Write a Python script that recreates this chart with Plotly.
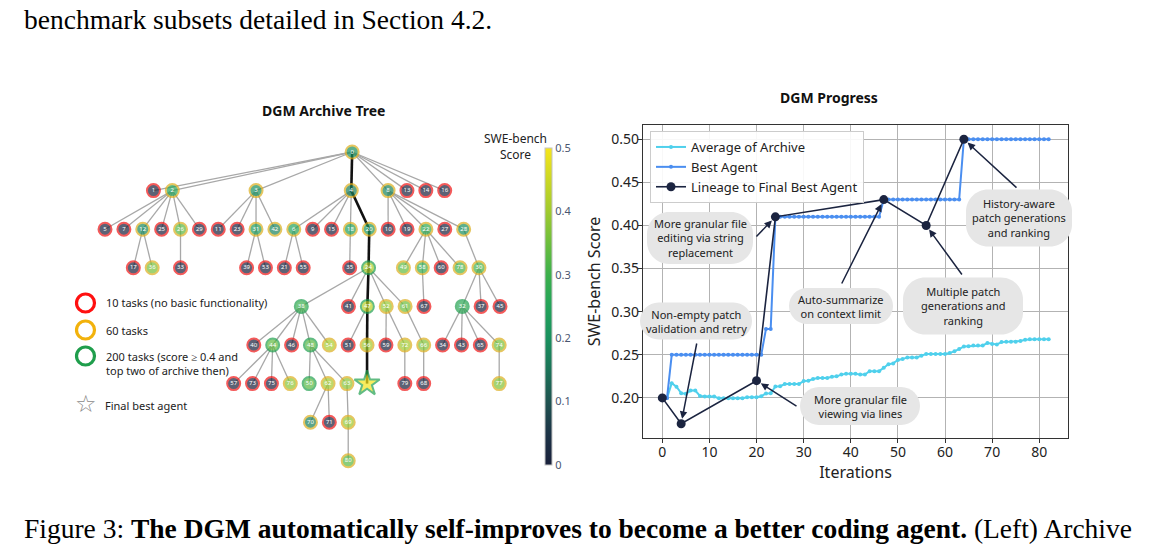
import numpy as np
import plotly.graph_objects as go

# the page body keeps an 8px margin, so the figure is drawn 8px smaller
OFF = 8
W, H = 1154 - OFF, 552 - OFF

# ---------------- archive tree data ----------------
node_id = list(range(81))
node_parent = [-1, 0, 0, 0, 0, 2, 4, 2, 0, 4,
               8, 3, 2, 0, 0, 4, 0, 12, 4, 8,
               4, 6, 8, 3, 20, 2, 2, 8, 8, 2,
               28, 3, 30, 26, 32, 18, 12, 30, 24, 31,
               38, 24, 3, 32, 38, 30, 38, 24, 38, 22,
               48, 47, 24, 31, 38, 6, 47, 44, 22, 52,
               22, 24, 48, 48, 56, 32, 61, 58, 66, 63,
               62, 62, 52, 44, 32, 44, 44, 74, 22, 72,
               69]
node_score = [0.20, 0, 0.25, 0.20, 0.17, 0, 0.25, 0, 0.18, 0,
              0, 0, 0.19, 0, 0, 0, 0, 0, 0.24, 0,
              0.22, 0, 0.28, 0, 0.41, 0, 0.33, 0, 0.20, 0,
              0.31, 0.23, 0.27, 0, 0, 0, 0.36, 0, 0.30, 0,
              0, 0, 0.18, 0, 0.34, 0, 0, 0.43, 0.33, 0.34,
              0.33, 0, 0.39, 0, 0.41, 0, 0.40, 0, 0.29, 0,
              0, 0.35, 0.40, 0.38, 0.50, 0, 0.37, 0, 0, 0.39,
              0.17, 0, 0.40, 0, 0.36, 0, 0.38, 0.37, 0.31, 0,
              0.33]
node_tasks = [60, 10, 60, 60, 60, 10, 60, 10, 60, 10,
              10, 10, 60, 10, 10, 10, 10, 10, 60, 10,
              60, 10, 60, 10, 200, 10, 60, 10, 60, 10,
              60, 60, 200, 10, 10, 10, 60, 10, 200, 10,
              10, 10, 60, 10, 200, 10, 10, 200, 200, 60,
              200, 10, 60, 10, 60, 10, 60, 10, 60, 10,
              10, 60, 60, 60, 200, 10, 60, 10, 10, 60,
              60, 10, 60, 10, 60, 10, 60, 60, 60, 10,
              60]
best_node = 64

task_labels = ["10 tasks (no basic functionality)", "60 tasks",
               "200 tasks (score \u2265 0.4 and<br>top two of archive then)"]
task_colors = {10: "#f01515", 60: "#dcae1e", 200: "#21a04f"}
legend_ring = {10: "#ff1010", 60: "#f2b20c", 200: "#1f9e4c"}

# ---------------- progress data ----------------
iterations = list(range(83))
avg_archive = [0.200, 0.200, 0.217, 0.213, 0.2055, 0.2047, 0.2085, 0.2085, 0.2023, 0.2016,
               0.2016, 0.2016, 0.1995, 0.1995, 0.1995, 0.1995, 0.1995, 0.1995, 0.2008, 0.2008,
               0.2008, 0.202, 0.2052, 0.2054, 0.2132, 0.2135, 0.216, 0.216, 0.216, 0.216,
               0.2195, 0.220, 0.222, 0.223, 0.223, 0.223, 0.2245, 0.225, 0.227, 0.228,
               0.228, 0.228, 0.227, 0.227, 0.231, 0.231, 0.231, 0.235, 0.239, 0.240,
               0.244, 0.245, 0.247, 0.247, 0.247, 0.249, 0.2508, 0.2508, 0.2508, 0.2508,
               0.2508, 0.252, 0.254, 0.2566, 0.2597, 0.260, 0.2608, 0.2608, 0.2608, 0.2636,
               0.2625, 0.262, 0.2647, 0.265, 0.265, 0.265, 0.266, 0.2675, 0.268, 0.268,
               0.268, 0.268, 0.268]
best_agent = [0.20, 0.20, 0.25, 0.25, 0.25, 0.25, 0.25, 0.25, 0.25, 0.25,
              0.25, 0.25, 0.25, 0.25, 0.25, 0.25, 0.25, 0.25, 0.25, 0.25,
              0.25, 0.25, 0.28, 0.28, 0.41, 0.41, 0.41, 0.41, 0.41, 0.41,
              0.41, 0.41, 0.41, 0.41, 0.41, 0.41, 0.41, 0.41, 0.41, 0.41,
              0.41, 0.41, 0.41, 0.41, 0.41, 0.41, 0.41, 0.43, 0.43, 0.43,
              0.43, 0.43, 0.43, 0.43, 0.43, 0.43, 0.43, 0.43, 0.43, 0.43,
              0.43, 0.43, 0.43, 0.43, 0.50, 0.50, 0.50, 0.50, 0.50, 0.50,
              0.50, 0.50, 0.50, 0.50, 0.50, 0.50, 0.50, 0.50, 0.50, 0.50,
              0.50, 0.50, 0.50]

# lineage = path root -> best node, iteration = node id
lineage = [best_node]
while node_parent[lineage[-1]] >= 0:
    lineage.append(node_parent[lineage[-1]])
lineage = lineage[::-1]
lineage_iter = lineage
lineage_score = [node_score[n] for n in lineage]

# annotations: text, node on lineage it points to
notes = [
    ("More granular file<br>editing via string<br>replacement", 24),
    ("Non-empty patch<br>validation and retry", 4),
    ("Auto-summarize<br>on context limit", 47),
    ("More granular file<br>viewing via lines", 20),
    ("Multiple patch<br>generations and<br>ranking", 56),
    ("History-aware<br>patch generations<br>and ranking", 64),
]


def px(x):
    return (x - OFF) / W


def py(y):
    return 1 - (y - OFF) / H


# ---------------- tree layout (layered, L1-ish edge straightening) ----------------
def pav(vals, wts):
    blocks = []
    for v, w in zip(vals, wts):
        blocks.append([v, w, 1])
        while len(blocks) > 1 and blocks[-2][0] > blocks[-1][0]:
            v2, w2, c2 = blocks.pop()
            v1, w1, c1 = blocks.pop()
            blocks.append([(v1 * w1 + v2 * w2) / (w1 + w2), w1 + w2, c1 + c2])
    out = []
    for v, w, c in blocks:
        out += [v] * c
    return out


def tree_layout(parent, heavy, sweeps=300):
    n = len(parent)
    kids = [[] for _ in range(n)]
    for c, p in enumerate(parent):
        if p >= 0:
            kids[p].append(c)
    layers, row = [], [parent.index(-1)]
    while row:
        layers.append(row)
        row = [c for p in row for c in sorted(kids[p])]
    pos = np.zeros(n)
    depth = np.zeros(n, int)
    for d, r in enumerate(layers):
        for k, v in enumerate(r):
            pos[v], depth[v] = k, d
    order = list(range(1, len(layers))) + list(range(len(layers) - 2, -1, -1))
    for _ in range(sweeps):
        for d in order:
            r = layers[d]
            tgt, wts = [], []
            for k, v in enumerate(r):
                nb = ([parent[v]] if parent[v] >= 0 else []) + kids[v]
                w = np.array([(2.5 if (v in heavy and u in heavy) else 1.0) /
                              (abs(pos[v] - pos[u]) + 0.08) for u in nb])
                tgt.append(float(w @ pos[nb]) / w.sum() - k)
                wts.append(w.sum())
            fit = pav(tgt, wts)
            for k, v in enumerate(r):
                pos[v] = fit[k] + k
    return pos, depth


pos, depth = tree_layout(node_parent, set(lineage))
tx = pos
ty = -depth.astype(float)

# tree axis placement (page pixels)
span_lo, span_hi = 105, 500
s = (span_hi - span_lo) / (tx.max() - tx.min())
dom_x = (60, 530)
tree_xr = [tx.min() - (span_lo - dom_x[0]) / s, tx.max() + (dom_x[1] - span_hi) / s]
row_px = 38.6
dom_y = (140, 475)
tree_yr = [-depth.max() - (dom_y[1] - 152 - depth.max() * row_px) / row_px, (152 - dom_y[0]) / row_px]

fig = go.Figure()

# edges
ex, ey, lx, ly = [], [], [], []
for c, p in enumerate(node_parent):
    if p < 0:
        continue
    if c in lineage and p in lineage:
        lx += [tx[p], tx[c], None]
        ly += [ty[p], ty[c], None]
    else:
        ex += [tx[p], tx[c], None]
        ey += [ty[p], ty[c], None]
fig.add_trace(go.Scatter(x=ex, y=ey, mode="lines", line=dict(color="#a8a8a8", width=1.3),
                         hoverinfo="skip", showlegend=False, xaxis="x", yaxis="y"))
fig.add_trace(go.Scatter(x=lx, y=ly, mode="lines", line=dict(color="#111111", width=2.6),
                         hoverinfo="skip", showlegend=False, xaxis="x", yaxis="y"))

colorscale = [[0.0, "#19203b"], [0.1, "#1d3447"], [0.2, "#1f5350"], [0.3, "#1b7358"],
              [0.4, "#19905e"], [0.5, "#23a35a"], [0.6, "#3cb04c"], [0.7, "#6cbe3d"],
              [0.8, "#a0ca2e"], [0.9, "#cbd724"], [1.0, "#f6e51b"]]

fig.add_trace(go.Scatter(
    x=tx, y=ty, mode="markers+text",
    text=["" if n == best_node else str(n) for n in node_id],
    textposition="middle center",
    textfont=dict(size=6, color="white", family="Noto Sans"),
    marker=dict(
        size=[19 if n == best_node else 13 for n in node_id],
        symbol=["star" if n == best_node else "circle" for n in node_id],
        color=node_score, colorscale=colorscale, cmin=0, cmax=0.5,
        line=dict(color=[task_colors[t] for t in node_tasks], width=2),
        showscale=True,
        colorbar=dict(x=px(545), xanchor="left", y=py(306.5), yanchor="middle",
                      len=317 / H, lenmode="fraction", thickness=7, thicknessmode="pixels",
                      outlinewidth=1, outlinecolor="#c4c4c4", ticks="",
                      tickvals=[0, 0.1, 0.2, 0.3, 0.4, 0.5],
                      ticktext=["0", "0.1", "0.2", "0.3", "0.4", "0.5"],
                      tickfont=dict(size=11, color="#4a5670", family="Noto Sans"),
                      xpad=0, ypad=0),
    ),
    hoverinfo="skip", showlegend=False, xaxis="x", yaxis="y"))

# ---------------- progress chart ----------------
fig.add_trace(go.Scatter(x=iterations, y=avg_archive, mode="lines+markers", name="Average of Archive",
                         line=dict(color="#4fd0ec", width=2), marker=dict(size=4, color="#4fd0ec"),
                         xaxis="x2", yaxis="y2"))
fig.add_trace(go.Scatter(x=iterations, y=best_agent, mode="lines+markers", name="Best Agent",
                         line=dict(color="#4a8ef0", width=2), marker=dict(size=4, color="#4a8ef0"),
                         xaxis="x2", yaxis="y2"))
fig.add_trace(go.Scatter(x=lineage_iter, y=lineage_score, mode="lines+markers",
                         name="Lineage to Final Best Agent",
                         line=dict(color="#1b2440", width=1.6), marker=dict(size=9, color="#1b2440"),
                         xaxis="x2", yaxis="y2"))

P = dict(x0=643, x1=1068, y0=125, y1=438)
xr2 = [-4.1, 86.1]
yr2 = [0.1535, 0.5165]


def to_data(qx, qy):
    x = xr2[0] + (qx - P["x0"]) / (P["x1"] - P["x0"]) * (xr2[1] - xr2[0])
    y = yr2[1] - (qy - P["y0"]) / (P["y1"] - P["y0"]) * (yr2[1] - yr2[0])
    return x, y


def rounded(w, h, r):
    k = 0.5523 * r
    a, b = w / 2, h / 2
    return (f"M {-a + r},{-b} L {a - r},{-b} C {a - r + k},{-b} {a},{-b + r - k} {a},{-b + r} "
            f"L {a},{b - r} C {a},{b - r + k} {a - r + k},{b} {a - r},{b} "
            f"L {-a + r},{b} C {-a + r - k},{b} {-a},{b - r + k} {-a},{b - r} "
            f"L {-a},{-b + r} C {-a},{-b + r - k} {-a + r - k},{-b} {-a + r},{-b} Z")


def label(x, y, text, size=11, color="#222222", xanchor="center", **kw):
    return dict(x=px(x), y=py(y), xref="paper", yref="paper", text=text, showarrow=False,
                xanchor=xanchor, yanchor="middle", font=dict(size=size, color=color, **kw),
                align="left" if xanchor == "left" else "center")


# bubble centre/size (px) and arrow tail (px), same order as notes
bubble_box = [(700, 238, 106, 52), (696, 321, 112, 37), (841, 306, 104, 36),
              (860, 406, 120, 38), (963, 306, 120, 57), (1019, 218, 106, 57)]
arrow_tail = [(755, 238), (697, 342), (841, 285), (798, 407), (963, 276), (1018, 189)]

shapes, annotations = [], []
for (txt, nd), (cx, cy, bw, bh), (ax_, ay_) in zip(notes, bubble_box, arrow_tail):
    shapes.append(dict(type="path", xref="paper", yref="paper", xsizemode="pixel", ysizemode="pixel",
                       xanchor=px(cx), yanchor=py(cy), path=rounded(bw, bh, min(bh / 2, 22)),
                       fillcolor="#e6e6e6", line=dict(width=0), layer="above"))
    annotations.append(label(cx, cy, txt))
    k = lineage_iter.index(nd)
    tx_, ty_ = to_data(ax_, ay_)
    annotations.append(dict(x=lineage_iter[k], y=lineage_score[k], xref="x2", yref="y2",
                            ax=tx_, ay=ty_, axref="x2", ayref="y2", text="", showarrow=True,
                            arrowhead=2, arrowsize=1, arrowwidth=1.5, arrowcolor="#1b2440",
                            standoff=5))

# tree legend
for t, cy in zip([10, 60, 200], [303, 330, 356]):
    shapes.append(dict(type="circle", xref="paper", yref="paper", xsizemode="pixel", ysizemode="pixel",
                       xanchor=px(85.5), yanchor=py(cy), x0=-9, x1=9, y0=-9, y1=9,
                       line=dict(color=legend_ring[t], width=3.2)))
for lab, cy in zip(task_labels, [302, 330, 363]):
    annotations.append(label(104, cy, lab, xanchor="left"))
annotations.append(label(85.5, 404, "\u2606", size=24, color="#8a8a8a", family="DejaVu Sans"))
annotations.append(label(103, 405, "Final best agent", xanchor="left"))
annotations.append(label(515, 146, "SWE-bench<br>Score", size=12))

# titles
annotations.append(label(323, 110, "<b>DGM Archive Tree</b>", size=14, color="#111111"))
annotations.append(label(829, 98, "<b>DGM Progress</b>", size=14, color="#111111"))

# surrounding paper text
serif = dict(family="Liberation Serif", color="#000000")
annotations.append(label(22, 19, "benchmark subsets detailed in Section 4.2.",
                         size=27.5, xanchor="left", **serif))
annotations.append(label(22, 528, "Figure 3: <b>The DGM automatically self-improves to become a better "
                                  "coding agent.</b> (Left) Archive", size=27.5, xanchor="left", **serif))

axis_common = dict(showline=True, mirror=True, linecolor="#333333", linewidth=1.2,
                   showgrid=True, gridcolor="#b3b3b3", gridwidth=1.3, zeroline=False,
                   ticks="outside", ticklen=4, tickcolor="#333333",
                   tickfont=dict(size=14, color="#222222"))

fig.update_layout(
    width=W, height=H, margin=dict(l=0, r=0, t=0, b=0),
    paper_bgcolor="white", plot_bgcolor="white",
    font=dict(family="Noto Sans", color="#222222"),
    xaxis=dict(domain=[px(dom_x[0]), px(dom_x[1])], range=tree_xr, visible=False),
    yaxis=dict(domain=[py(dom_y[1]), py(dom_y[0])], range=tree_yr, visible=False),
    xaxis2=dict(domain=[px(P["x0"]), px(P["x1"])], range=xr2, anchor="y2",
                tickvals=[0, 10, 20, 30, 40, 50, 60, 70, 80], ticklabelstandoff=-3,
                title=dict(text="Iterations", font=dict(size=16), standoff=0), **axis_common),
    yaxis2=dict(domain=[py(P["y1"]), py(P["y0"])], range=yr2, anchor="x2",
                tickvals=[0.20, 0.25, 0.30, 0.35, 0.40, 0.45, 0.50], tickformat=".2f",
                ticklabelstandoff=-4,
                title=dict(text="SWE-bench Score", font=dict(size=16), standoff=6), **axis_common),
    legend=dict(x=px(650), y=py(131), xanchor="left", yanchor="top",
                bgcolor="rgba(255,255,255,0.9)", bordercolor="#cccccc", borderwidth=1,
                font=dict(size=13, color="#222222"), itemwidth=30, tracegroupgap=0),
    shapes=shapes, annotations=annotations,
)

fig.write_html("out.html")
